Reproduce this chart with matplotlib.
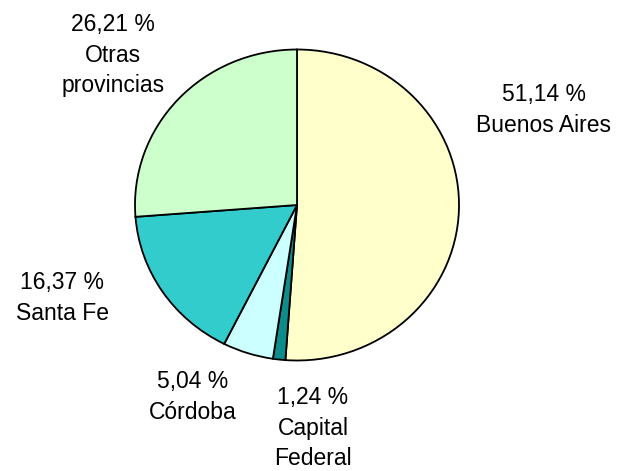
import matplotlib.pyplot as plt

plt.rcParams['font.family'] = ['Liberation Sans', 'DejaVu Sans']

# data
names  = ["Buenos Aires", "Capital\nFederal", "Córdoba", "Santa Fe", "Otras\nprovincias"]
shares = [51.14, 1.24, 5.04, 16.37, 26.21]
colors = ["#FFFFCC", "#0E8C8C", "#CCFFFF", "#33CCCC", "#CCFFCC"]

# label anchors in pixel space (x, y from top)
label_pos = [(544, 110), (313, 428), (193, 397), (62, 298), (113, 55)]

W, H = 619, 471
fig = plt.figure(figsize=(W / 100, H / 100), dpi=100)

# pie is slightly wider than tall in the reference
cx, cy, rx, ry = 297, 205, 162, 155.5
m = 1.03
pax = fig.add_axes([(cx - rx * m) / W, (H - cy - ry * m) / H,
                    2 * rx * m / W, 2 * ry * m / H])
pax.pie(shares, colors=colors, startangle=90, counterclock=False,
        wedgeprops=dict(edgecolor='black', linewidth=1.3))
pax.set_aspect('auto')
pax.set_xlim(-m, m)
pax.set_ylim(-m, m)
pax.axis('off')

# text layer in pixel coordinates
ax = fig.add_axes([0, 0, 1, 1])
ax.set_xlim(0, W)
ax.set_ylim(H, 0)
ax.axis('off')

for n, s, (px, py) in zip(names, shares, label_pos):
    txt = ("%.2f %%" % s).replace('.', ',') + "\n" + n
    ax.text(px, py, txt, ha='center', va='center', fontsize=16.5,
            linespacing=1.4, color='black')

fig.savefig("out.png", dpi=100)
